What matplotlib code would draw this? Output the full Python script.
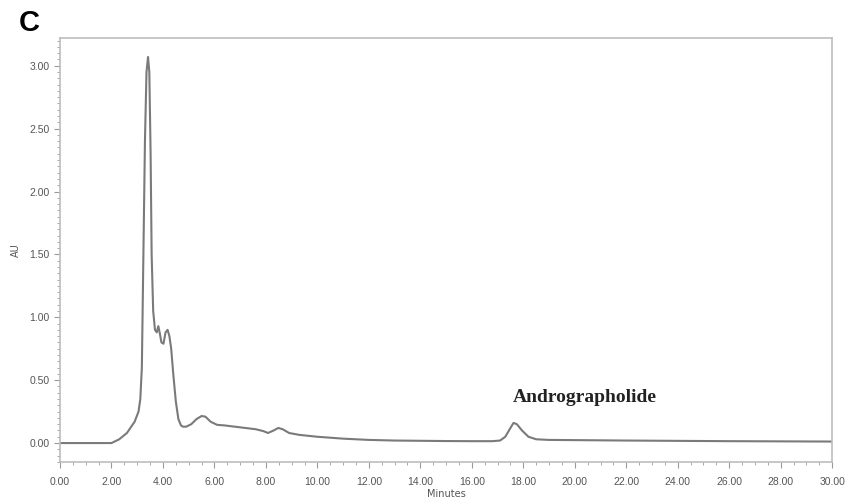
import matplotlib
matplotlib.use("Agg")
import matplotlib.pyplot as plt
from matplotlib.ticker import MultipleLocator, FormatStrFormatter

# chromatogram (minutes, AU)
waktu = [0.0, 1.0, 2.0, 2.3, 2.6, 2.9, 3.05, 3.12, 3.18, 3.24, 3.30, 3.36,
         3.42, 3.47, 3.52, 3.56, 3.62, 3.69, 3.76, 3.82, 3.88, 3.94, 4.02,
         4.10, 4.18, 4.25, 4.32, 4.40, 4.50, 4.60, 4.70, 4.78, 4.90, 5.10,
         5.30, 5.50, 5.65, 5.85, 6.10, 6.40, 6.80, 7.20, 7.60, 7.90, 8.08,
         8.30, 8.48, 8.65, 8.90, 9.30, 10.0, 11.0, 12.0, 13.0, 14.0, 15.0,
         16.0, 16.8, 17.1, 17.3, 17.5, 17.62, 17.75, 17.95, 18.2, 18.5,
         19.0, 22.0, 26.0, 30.0]
au = [0.00, 0.00, 0.00, 0.03, 0.08, 0.17, 0.25, 0.35, 0.60, 1.50, 2.40, 2.95,
      3.07, 2.95, 2.30, 1.50, 1.05, 0.90, 0.88, 0.93, 0.87, 0.80, 0.79,
      0.88, 0.90, 0.85, 0.75, 0.55, 0.33, 0.19, 0.14, 0.13, 0.13, 0.15,
      0.19, 0.215, 0.21, 0.17, 0.145, 0.14, 0.13, 0.12, 0.11, 0.095, 0.08,
      0.10, 0.12, 0.11, 0.08, 0.065, 0.05, 0.035, 0.025, 0.02, 0.018, 0.016,
      0.015, 0.015, 0.02, 0.05, 0.12, 0.16, 0.15, 0.10, 0.05, 0.03,
      0.025, 0.02, 0.015, 0.012]

LABEL_PUNCAK = "Andrographolide"
POS_LABEL = (20.4, 0.36)

fig = plt.figure(figsize=(8.5, 5.01), dpi=100)
ax = fig.add_axes([0.0706, 0.078, 0.9084, 0.846])

ax.plot(waktu, au, color="#7a7a7a", linewidth=1.5)

ax.set_xlim(0, 30)
ax.set_ylim(-0.15, 3.22)
ax.xaxis.set_major_locator(MultipleLocator(2))
ax.xaxis.set_minor_locator(MultipleLocator(0.5))
ax.yaxis.set_major_locator(MultipleLocator(0.5))
ax.yaxis.set_minor_locator(MultipleLocator(0.05))
ax.xaxis.set_major_formatter(FormatStrFormatter("%.2f"))
ax.yaxis.set_major_formatter(FormatStrFormatter("%.2f"))

for s in ax.spines.values():
    s.set_color("#bdbdbd")
    s.set_linewidth(1.2)
ax.tick_params(which="both", colors="#9a9a9a", labelcolor="#555555",
               labelsize=7.5)
ax.tick_params(which="major", length=4)
ax.tick_params(which="minor", length=2)
ax.tick_params(axis="x", which="major", pad=7)
for lbl in ax.get_xticklabels() + ax.get_yticklabels():
    lbl.set_family("Liberation Sans")

ax.set_ylabel("AU", fontsize=7, color="#555555", labelpad=6)
ax.set_xlabel("Minutes", fontsize=7, color="#555555", labelpad=1)

ax.text(POS_LABEL[0], POS_LABEL[1], LABEL_PUNCAK, ha="center", va="center",
        family="Liberation Serif", fontweight="bold", fontsize=14,
        color="#222222")

fig.text(0.022, 0.955, "C", fontsize=21, fontweight="bold",
         family="Liberation Sans", va="center", ha="left")

fig.savefig("out.png", dpi=100)
